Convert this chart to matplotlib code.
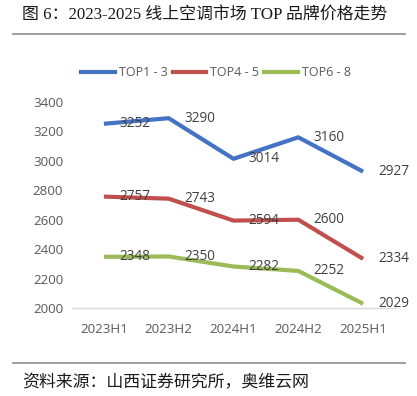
import matplotlib
matplotlib.use("Agg")
import matplotlib.pyplot as plt
from matplotlib.lines import Line2D

plt.rcParams['font.family'] = ['Open Sans', 'Noto Sans CJK SC', 'DejaVu Sans']

# data
periods = ['2023H1', '2023H2', '2024H1', '2024H2', '2025H1']
top1_3 = [3252, 3290, 3014, 3160, 2927]
top4_5 = [2757, 2743, 2594, 2600, 2334]
top6_8 = [2348, 2350, 2282, 2252, 2029]
series_names = ['TOP1 - 3', 'TOP4 - 5', 'TOP6 - 8']
colors = ['#4472C4', '#C0504D', '#9BBB59']

W, H = 417, 396
fig = plt.figure(figsize=(W / 100, H / 100), dpi=100)

# axes box in pixel coords of the reference
ax = fig.add_axes([71.5 / W, (H - 308) / H, 324 / W, 206 / H])

x = list(range(len(periods)))
for vals, c in zip([top1_3, top4_5, top6_8], colors):
    ax.plot(x, vals, color=c, lw=3, solid_capstyle='butt', zorder=3)
    for xi, v in zip(x, vals):
        ax.annotate(str(v), (xi, v), xytext=(11, 0), textcoords='offset points',
                    ha='left', va='center', fontsize=9.8, color='#404040', zorder=4)

ax.set_xlim(-0.5, 4.5)
ax.set_ylim(2000, 3400)
ax.set_yticks(range(2000, 3401, 200))
ax.set_xticks(x)
ax.set_xticklabels(periods)
ax.tick_params(length=0, labelsize=9.6, labelcolor='#595959')
ax.tick_params(axis='x', pad=11)
ax.tick_params(axis='y', pad=6)
for s in ['top', 'right', 'left']:
    ax.spines[s].set_visible(False)
ax.spines['bottom'].set_color('#D9D9D9')
ax.spines['bottom'].set_linewidth(1)
ax.set_facecolor('none')

handles = [Line2D([], [], color=c, lw=3) for c in colors]
fig.legend(handles, series_names, loc='center', bbox_to_anchor=(216 / W, 1 - 73 / H),
           ncol=3, frameon=False, fontsize=9, handlelength=2.7, handletextpad=0.3,
           columnspacing=0.4, labelcolor='#595959')

# title, rules and source
fig.text(22 / W, 1 - 15 / H, '图 6：2023-2025 线上空调市场 TOP 品牌价格走势',
         family=['Liberation Serif', 'Noto Sans CJK SC'], fontsize=12.2,
         ha='left', va='center', color='#1a1a1a')
fig.add_artist(Line2D([13 / W, 405 / W], [1 - 34 / H, 1 - 34 / H], color='#8c8c8c', lw=1.2))
fig.add_artist(Line2D([13 / W, 405 / W], [1 - 363 / H, 1 - 363 / H], color='#8c8c8c', lw=1.2))
fig.text(22 / W, 1 - 382 / H, '资料来源：山西证券研究所，奥维云网',
         family=['Noto Sans CJK SC'], fontsize=12.2, ha='left', va='center', color='#1a1a1a')

fig.savefig('out.png', dpi=100)
